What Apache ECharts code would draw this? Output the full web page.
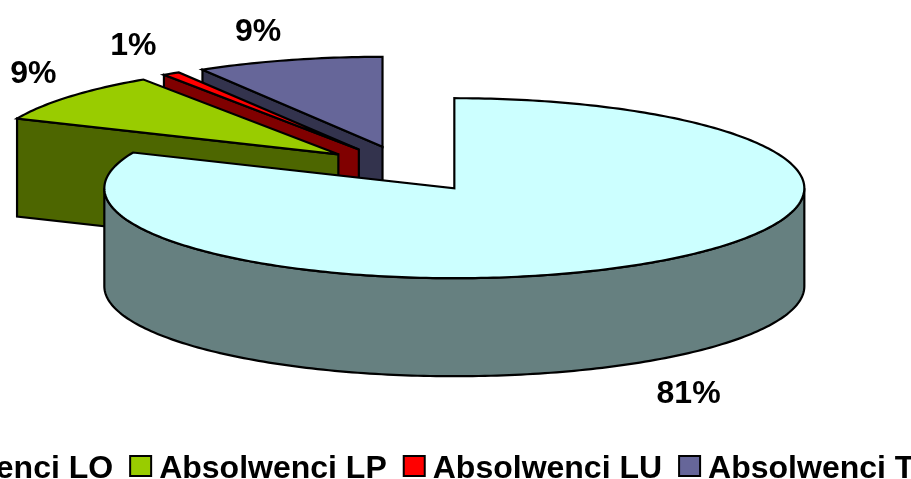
<!DOCTYPE html>
<html>
<head>
<meta charset="utf-8">
<style>html,body{margin:0;padding:0;background:#fff;overflow:hidden}#c{width:911px;height:479px}</style>
<script src="https://cdn.jsdelivr.net/npm/echarts@6/dist/echarts.min.js"></script>
</head>
<body>
<div id="c"></div>
<script>
const categories = ['Absolwenci LO', 'Absolwenci LP', 'Absolwenci LU', 'Absolwenci T'];
const values = [81.49, 9.11, 0.8, 8.6];
const topColors = ['#CCFFFF', '#99CC00', '#FF0000', '#666699'];
const sideColors = ['#668080', '#4D6600', '#800000', '#33334D'];

const FONT = '"Liberation Sans", Arial, sans-serif';
const PIE = { cx: 406, cy: 169, rx: 350, ry: 90, depth: 98, explodeX: 88, explodeY: 23,
  labelBackX: 30, labelBackY: 28, labelFrontX: 41, labelFrontY: 34 };
const labelNudge = [[1, -1], [-6, 5], [-8, 1], [-1, 0]];
const total = values.reduce((a, b) => a + b, 0);
const rad = d => d * Math.PI / 180;
const STROKE = { stroke: '#000', lineWidth: 2.2, lineJoin: 'miter', miterLimit: 4 };

function poly(points, fill) {
  return { type: 'polygon', shape: { points }, style: Object.assign({ fill }, STROKE) };
}
function sweep(a, b) {
  const out = [];
  const n = Math.max(1, Math.ceil(Math.abs(b - a)));
  for (let i = 0; i <= n; i++) out.push(a + (b - a) * i / n);
  return out;
}

function makeRender(idx) {
  return function (params, api) {
    const v = api.value(0);
    let before = 0;
    for (let i = 0; i < idx; i++) before += values[i];
    const a0 = before / total * 360;
    const a1 = a0 + v / total * 360;
    const mid = (a0 + a1) / 2;
    const ax = PIE.cx + PIE.explodeX * Math.sin(rad(mid));
    const ay = PIE.cy - PIE.explodeY * Math.cos(rad(mid));
    const rim = a => [ax + PIE.rx * Math.sin(rad(a)), ay - PIE.ry * Math.cos(rad(a))];
    const down = p => [p[0], p[1] + PIE.depth];
    const children = [];

    // cut faces
    [[a0, a0 > 180 && a0 < 360], [a1, a1 > 0 && a1 < 180]].forEach(f => {
      if (f[1]) {
        const p = rim(f[0]);
        children.push(poly([[ax, ay], p, down(p), [ax, ay + PIE.depth]], sideColors[idx]));
      }
    });
    // front wall of the rim
    const f0 = Math.max(a0, 90), f1 = Math.min(a1, 270);
    if (f1 > f0) {
      const top = sweep(f0, f1).map(rim);
      children.push(poly(top.concat(top.slice().reverse().map(down)), sideColors[idx]));
    }
    // top face
    children.push(poly([[ax, ay]].concat(sweep(a0, a1).map(rim)), topColors[idx]));
    // percent label
    const m = rim(mid);
    const front = Math.cos(rad(mid)) < 0;
    const lx = front ? PIE.labelFrontX : PIE.labelBackX;
    children.push({
      type: 'text',
      z2: 10,
      style: {
        x: m[0] + (Math.sin(rad(mid)) < 0 ? -lx : lx) + labelNudge[idx][0],
        y: m[1] + (front ? PIE.labelFrontY + PIE.depth : -PIE.labelBackY) + labelNudge[idx][1],
        text: Math.round(v / total * 100) + '%',
        font: 'bold 32px ' + FONT,
        fill: '#000',
        align: 'center',
        verticalAlign: 'middle'
      }
    });
    return { type: 'group', children };
  };
}

const chart = echarts.init(document.getElementById('c'), null, { renderer: 'canvas', width: 911, height: 479 });
chart.setOption({
  animation: false,
  backgroundColor: '#fff',
  legend: {
    data: categories,
    left: -148,
    top: 447,
    width: 1400,
    padding: 0,
    orient: 'horizontal',
    icon: 'rect',
    itemWidth: 21,
    itemHeight: 20,
    itemGap: 16,
    selectedMode: false,
    itemStyle: { borderColor: '#000', borderWidth: 2 },
    formatter: '{t|{name}}',
    textStyle: {
      fontFamily: FONT, fontWeight: 'bold', fontSize: 32, color: '#000',
      rich: { t: { fontFamily: FONT, fontWeight: 'bold', fontSize: 32, color: '#000', lineHeight: 22, padding: [6, 0, 0, 3] } }
    }
  },
  series: categories.map((name, i) => ({
    type: 'custom',
    name,
    coordinateSystem: 'none',
    z: 4 - i + (i === 0 ? 1 : 0),
    silent: true,
    itemStyle: { color: topColors[i] },
    data: [[values[i]]],
    renderItem: makeRender(i)
  }))
});
</script>
</body>
</html>
